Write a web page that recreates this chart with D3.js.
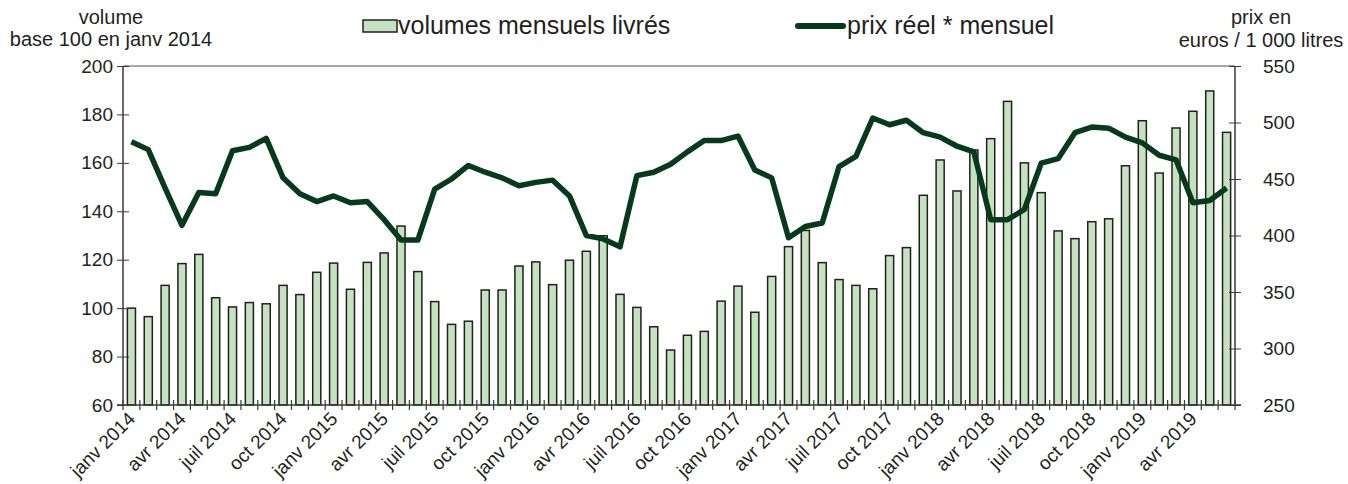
<!DOCTYPE html>
<meta charset="utf-8">
<style>
  body { margin: 0; background: #fff; }
  text { font-family: "Liberation Sans", Arial, sans-serif; fill: #231f20; }
</style>
<body></body>
<script src="https://cdn.jsdelivr.net/npm/d3@7"></script>
<script>
  const width = 1348
  const height = 484
  const margin = {top: 66, right: 113, bottom: 79, left: 123}

  const monthNames = ["janv", "févr", "mars", "avr", "mai", "juin", "juil", "août", "sept", "oct", "nov", "déc"]
  const years = [2014, 2015, 2016, 2017, 2018, 2019]

  // volumes mensuels livrés, base 100 en janv 2014 (janv 2014 -> juin 2019)
  const volumes = [
    100, 96.5, 109.4, 118.4, 122.2, 104.3, 100.5, 102.3, 101.8, 109.4, 105.6, 114.8,
    118.6, 107.8, 118.9, 122.8, 133.9, 115.1, 102.7, 93.3, 94.6, 107.5, 107.5, 117.4,
    119.1, 109.7, 119.8, 123.5, 129.9, 105.7, 100.3, 92.3, 82.7, 88.8, 90.4, 102.9,
    109.1, 98.3, 113.1, 125.4, 132.1, 118.8, 111.8, 109.4, 108.0, 121.7, 125.0, 146.6,
    161.2, 148.4, 165.3, 170.0, 185.4, 160.0, 147.7, 131.9, 128.7, 135.7, 136.9, 158.8,
    177.4, 155.8, 174.4, 181.3, 189.7, 172.6
  ]

  // prix réel mensuel, euros / 1 000 litres
  const prices = [
    483, 476, 442, 409, 438, 437, 475, 478, 486, 451, 437, 430,
    435, 429, 430, 414, 396, 396, 441, 450, 462, 456, 451, 444,
    447, 449, 435, 400, 397, 390, 453, 456, 463, 474, 484, 484,
    488, 458, 451, 398, 408, 411, 461, 470, 504, 498, 502, 491,
    487, 479, 474, 414, 414, 423, 464, 468, 491, 496, 495, 487,
    482, 471, 467, 429, 431, 442
  ]

  const leftTicks = [60, 80, 100, 120, 140, 160, 180, 200]
  const rightTicks = [250, 300, 350, 400, 450, 500, 550]

  const months = volumes.map((v, i) => ({
    key: i,
    label: monthNames[i % 12] + " " + years[Math.floor(i / 12)],
    volume: v,
    price: prices[i]
  }))

  const svg = d3.select("body").append("svg")
    .attr("width", width)
    .attr("height", height)

  const x = d3.scaleBand()
    .domain(months.map(d => d.key))
    .range([margin.left, width - margin.right])
    .paddingInner(0.52)
    .paddingOuter(0.26)

  const step = x.step()
  const x0 = margin.left

  const yL = d3.scaleLinear().domain([60, 200]).range([height - margin.bottom, margin.top])
  const yR = d3.scaleLinear().domain([250, 550]).range([height - margin.bottom, margin.top])

  const bottom = height - margin.bottom
  const right = width - margin.right

  // top frame line
  svg.append("line")
    .attr("x1", x0).attr("x2", right)
    .attr("y1", margin.top).attr("y2", margin.top)
    .attr("stroke", "#8a8a8a").attr("stroke-width", 1.5)

  // bars
  svg.append("g").selectAll("rect")
    .data(months)
    .join("rect")
    .attr("x", d => x(d.key))
    .attr("width", x.bandwidth())
    .attr("y", d => yL(d.volume))
    .attr("height", d => bottom - yL(d.volume))
    .attr("fill", "#c4e2bf")
    .attr("stroke", "#231f20")
    .attr("stroke-width", 1.5)

  // price line
  const line = d3.line()
    .x(d => x(d.key) + x.bandwidth() / 2)
    .y(d => yR(d.price))

  svg.append("path")
    .datum(months)
    .attr("d", line)
    .attr("fill", "none")
    .attr("stroke", "#053a1b")
    .attr("stroke-width", 5.5)
    .attr("stroke-linejoin", "round")

  // axes
  const axisColor = "#3a3a3a"
  const tickFont = 19

  const leftAxis = svg.append("g")
    .attr("transform", `translate(${x0},0)`)
    .call(d3.axisLeft(yL).tickValues(leftTicks).tickSize(6).tickPadding(4).tickFormat(d3.format("d")))
  leftAxis.select(".domain").remove()
  leftAxis.selectAll(".tick line").attr("x1", -6).attr("x2", 6).attr("stroke", axisColor)
  leftAxis.selectAll(".tick text").attr("font-size", tickFont).style("font-family", "Liberation Sans, Arial, sans-serif").attr("fill", "#231f20")
  svg.append("line").attr("x1", x0).attr("x2", x0).attr("y1", margin.top).attr("y2", bottom)
    .attr("stroke", axisColor).attr("stroke-width", 1.5)

  const rightAxis = svg.append("g")
    .attr("transform", `translate(${right},0)`)
    .call(d3.axisRight(yR).tickValues(rightTicks).tickSize(6).tickPadding(22).tickFormat(d3.format("d")))
  rightAxis.select(".domain").remove()
  rightAxis.selectAll(".tick line").attr("x1", -6).attr("x2", 6).attr("stroke", axisColor)
  rightAxis.selectAll(".tick text").attr("font-size", tickFont).style("font-family", "Liberation Sans, Arial, sans-serif").attr("fill", "#231f20")
  svg.append("line").attr("x1", right).attr("x2", right).attr("y1", margin.top).attr("y2", bottom)
    .attr("stroke", axisColor).attr("stroke-width", 1.5)

  // x axis: cross ticks at month boundaries
  const boundaries = d3.range(months.length + 1).map(i => x0 + i * step)
  svg.append("g").selectAll("line")
    .data(boundaries)
    .join("line")
    .attr("x1", d => d).attr("x2", d => d)
    .attr("y1", bottom - 5).attr("y2", bottom + 5)
    .attr("stroke", axisColor).attr("stroke-width", 1.2)
  svg.append("line").attr("x1", x0 - 6).attr("x2", right + 6).attr("y1", bottom).attr("y2", bottom)
    .attr("stroke", axisColor).attr("stroke-width", 1.5)

  svg.append("g").selectAll("text")
    .data(months.filter(d => d.key % 3 === 0))
    .join("text")
    .attr("transform", d => `translate(${x(d.key) + x.bandwidth() / 2 + 5},${bottom + 15}) rotate(-45)`)
    .attr("text-anchor", "end")
    .attr("font-size", tickFont)
    .text(d => d.label)

  // axis titles
  const leftTitle = svg.append("text").attr("text-anchor", "middle").attr("font-size", 20)
  leftTitle.append("tspan").attr("x", 111).attr("y", 24).text("volume")
  leftTitle.append("tspan").attr("x", 111).attr("y", 46).text("base 100 en janv 2014")

  const rightTitle = svg.append("text").attr("text-anchor", "middle").attr("font-size", 20)
  rightTitle.append("tspan").attr("x", 1261).attr("y", 24).text("prix en")
  rightTitle.append("tspan").attr("x", 1261).attr("y", 47).text("euros / 1 000 litres")

  // legend
  const legend = svg.append("g")
  legend.append("rect")
    .attr("x", 363).attr("y", 20).attr("width", 34).attr("height", 12)
    .attr("fill", "#c4e2bf").attr("stroke", "#231f20").attr("stroke-width", 1.5)
  legend.append("text").attr("x", 398).attr("y", 34).attr("font-size", 25).text("volumes mensuels livrés")
  legend.append("line")
    .attr("x1", 798).attr("x2", 843).attr("y1", 26).attr("y2", 26)
    .attr("stroke", "#053a1b").attr("stroke-width", 6).attr("stroke-linecap", "round")
  legend.append("text").attr("x", 847).attr("y", 34).attr("font-size", 25).text("prix réel * mensuel")
</script>
